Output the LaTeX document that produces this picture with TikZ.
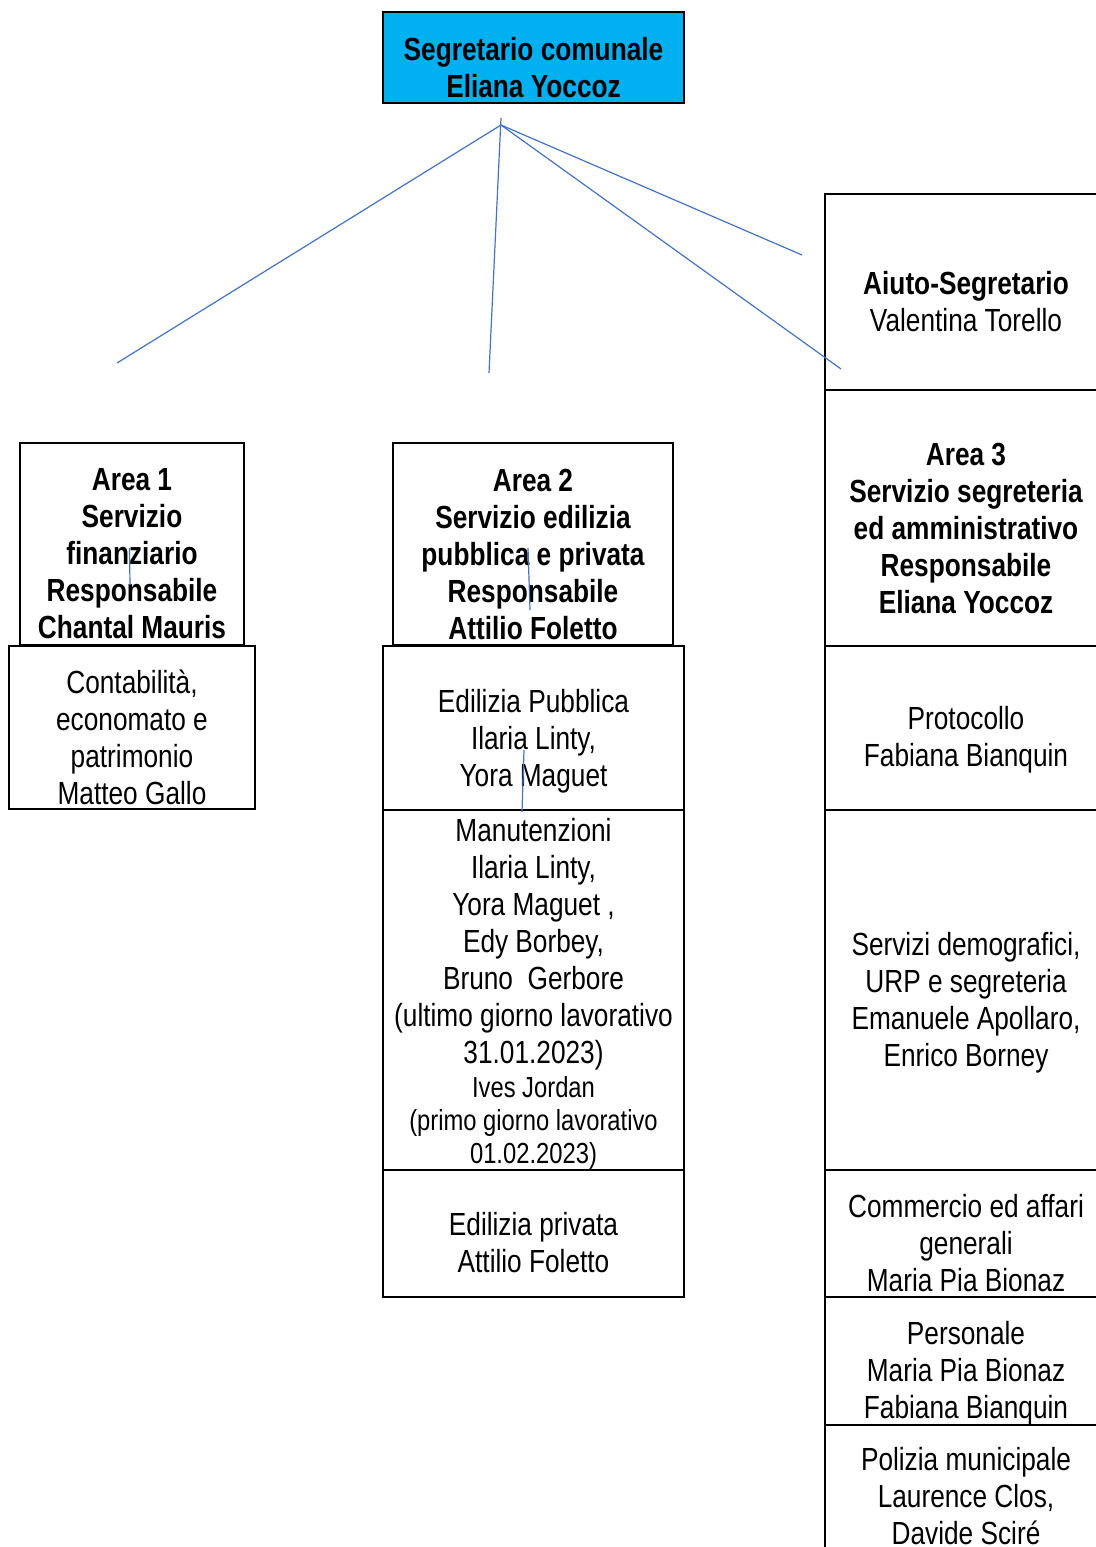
\documentclass[tikz,border=0pt]{standalone}
\usepackage{fontspec}
\setmainfont[FakeStretch=0.82]{Liberation Sans}
\definecolor{headcyan}{RGB}{0,176,240}
\definecolor{linkblue}{RGB}{68,114,196}
\tikzset{
  unit/.style={draw,line width=1pt,inner sep=0pt},
  txt/.style={align=center,inner sep=0pt,yshift=-5pt,
    font=\fontsize{16}{18.5}\selectfont},
  headtxt/.style={txt,font=\fontsize{16}{18.5}\selectfont\bfseries},
  link/.style={linkblue,line width=0.6pt},
}
\newcommand{\lesstext}{\fontsize{14.5}{16.5}\selectfont}
\begin{document}
\begin{tikzpicture}[x=0.5pt,y=-0.5pt]
  \useasboundingbox (0,0) rectangle (1096,1547);
  \clip (0,0) rectangle (1096,1547);
  % top
  \node[unit,fill=headcyan,minimum width=150.5pt,minimum height=45.5pt,
    label={[headtxt,name=segt]center:{Segretario comunale\\Eliana Yoccoz}}] (seg) at (533.5,57.5) {};
  % area 1
  \node[unit,minimum width=112pt,minimum height=101pt,
    label={[headtxt,name=area1t]center:{Area 1\\Servizio\\finanziario\\Responsabile\\Chantal Mauris}}] (area1) at (132,544) {};
  \node[unit,minimum width=123pt,minimum height=81.5pt,
    label={[txt,name=contat]center:{Contabilità,\\economato e\\patrimonio\\Matteo Gallo}}] (conta) at (132,727.5) {};
  % area 2
  \node[unit,minimum width=140pt,minimum height=101pt,
    label={[headtxt,name=area2t]center:{Area 2\\Servizio edilizia\\pubblica e privata\\Responsabile\\Attilio Foletto}}] (area2) at (533,544) {};
  \node[unit,minimum width=150.5pt,minimum height=82pt,
    label={[txt,name=edpubt]center:{\\[-4pt]Edilizia Pubblica\\Ilaria Linty,\\Yora Maguet}}] (edpub) at (533.5,728) {};
  \node[unit,minimum width=150.5pt,minimum height=180pt,
    label={[txt,yshift=3.25pt,name=manutt]center:{Manutenzioni\\Ilaria Linty,\\Yora Maguet ,\\Edy Borbey,\\Bruno\ \ Gerbore\\(ultimo giorno lavorativo\\31.01.2023)\\[-1.5pt]
     {\lesstext Ives Jordan}\\[-2pt]{\lesstext (primo giorno lavorativo}\\[-2pt]{\lesstext 01.02.2023)}}}] (manut) at (533.5,990) {};
  \node[unit,minimum width=150.5pt,minimum height=63.5pt,
    label={[txt,yshift=0.5pt,name=edprivt]center:{Edilizia privata\\Attilio Foletto}}] (edpriv) at (533.5,1233.5) {};
  % area 3 column
  \node[unit,minimum width=141pt,minimum height=98pt,
    label={[txt,name=aiutot]center:{\textbf{Aiuto-Segretario}\\Valentina Torello}}] (aiuto) at (966,292) {};
  \node[unit,minimum width=141pt,minimum height=128pt,
    label={[headtxt,name=area3t]center:{Area 3\\Servizio segreteria\\ed amministrativo\\Responsabile\\Eliana Yoccoz}}] (area3) at (966,518) {};
  \node[unit,minimum width=141pt,minimum height=82pt,
    label={[txt,yshift=-1pt,name=protot]center:{Protocollo\\Fabiana Bianquin}}] (proto) at (966,728) {};
  \node[unit,minimum width=141pt,minimum height=180pt,
    label={[txt,yshift=-1.5pt,name=demot]center:{Servizi demografici,\\URP e segreteria\\Emanuele Apollaro,\\Enrico Borney}}] (demo) at (966,990) {};
  \node[unit,minimum width=141pt,minimum height=63.5pt,
    label={[txt,name=commt]center:{Commercio ed affari\\generali\\Maria Pia Bionaz}}] (comm) at (966,1233.5) {};
  \node[unit,minimum width=141pt,minimum height=64pt,
    label={[txt,yshift=-1pt,name=perst]center:{Personale\\Maria Pia Bionaz\\Fabiana Bianquin}}] (pers) at (966,1361) {};
  \node[unit,minimum width=141pt,minimum height=72.5pt,
    label={[txt,yshift=5.5pt,name=polit]center:{Polizia municipale\\Laurence Clos,\\Davide Sciré}}] (poli) at (966,1497.5) {};
  % connectors
  \coordinate (hub) at (501,125);
  \coordinate (hubtop) at (501,118);
  \coordinate (end1) at (117,363);
  \coordinate (end2) at (489,373);
  \coordinate (end3) at (841,369);
  \coordinate (end4) at (802,255);
  \draw[link] (hub) -- (end1);
  \draw[link] (hubtop) -- (end2);
  \draw[link] (hub) -- (end3);
  \draw[link] (hub) -- (end4);
  % stray ticks
  \draw[link] (129.5,548) -- (130,585);
  \draw[link] (528,548) -- (530,610);
  \draw[link] (524,750) -- (522,812);
\end{tikzpicture}
\end{document}
